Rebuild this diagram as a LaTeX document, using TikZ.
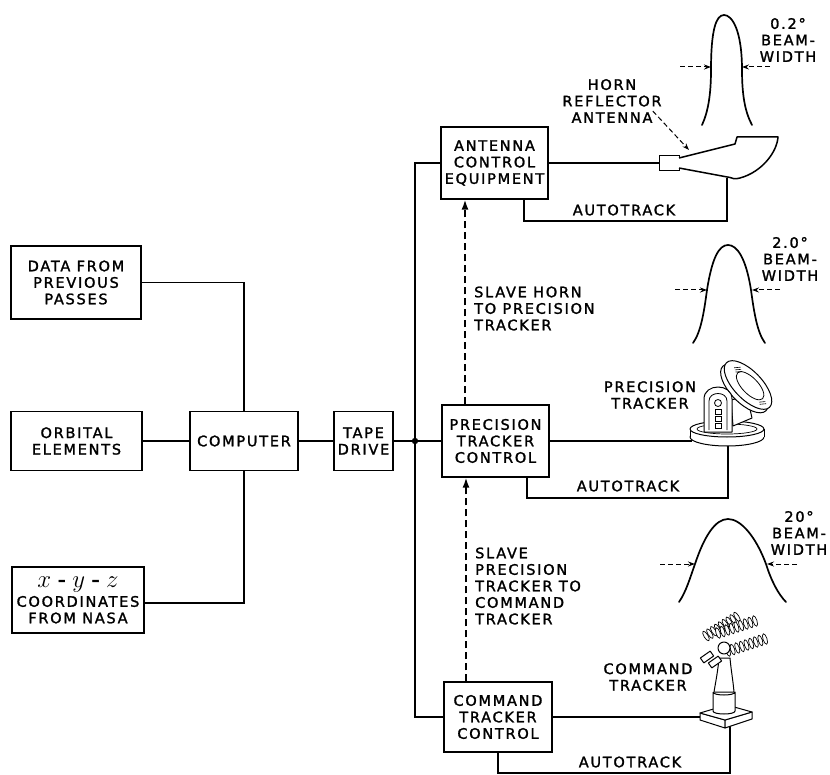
\documentclass[tikz,border=0pt]{standalone}
\usepackage{fontspec}
\setmainfont{DejaVu Sans}[LetterSpace=12, FakeBold=1.6]
\usetikzlibrary{arrows.meta}
\begin{document}
\begin{tikzpicture}[x=1pt,y=-1pt,
  txt/.style={font=\fontsize{14.5}{16.5}\selectfont},
  box/.style={txt, draw, line width=1.3pt, inner sep=0pt, align=center},
  lbl/.style={txt, inner sep=0pt, align=center},
  conn/.style={line width=1.9pt},
  slave/.style={line width=1.6pt, dash pattern=on 7pt off 4pt, -{Latex[length=10pt,width=7pt]}},
  beamarr/.style={line width=1pt, dash pattern=on 5pt off 3pt, -{Stealth[length=7pt,width=5pt]}},
  beam/.style={line width=1.7pt, line cap=round},
  art/.style={line width=1pt, fill=white, line join=round}
]
\useasboundingbox (0,0) rectangle (830,775);

% ---------- blocks ----------
\node[box, minimum width=130pt, minimum height=73pt] (data) at (76,282.5) {DATA FROM\\PREVIOUS\\PASSES};
\node[box, minimum width=131pt, minimum height=59pt] (orb) at (76.5,441) {ORBITAL\\ELEMENTS};
\node[box, minimum width=132pt, minimum height=66pt] (xyz) at (78,600) {{\fontsize{23}{20}\selectfont$x$\;-\;$y$\;-\;$z$}\\[3pt]COORDINATES\\FROM NASA};
\node[box, minimum width=108pt, minimum height=59pt] (comp) at (244,441) {COMPUTER};
\node[box, minimum width=59pt, minimum height=59pt] (tape) at (363.5,441) {TAPE\\DRIVE};
\node[box, minimum width=107pt, minimum height=72pt] (ant) at (494.5,163) {ANTENNA\\CONTROL\\EQUIPMENT};
\node[box, minimum width=107pt, minimum height=72pt] (prec) at (495.5,441) {PRECISION\\TRACKER\\CONTROL};
\node[box, minimum width=108pt, minimum height=70pt] (cmd) at (498,717) {COMMAND\\TRACKER\\CONTROL};

% ---------- named points ----------
\coordinate (j) at (415,441);
\coordinate (sx) at (465,0);
\coordinate (hornb) at (727,178);
\coordinate (ptl) at (692,441);
\coordinate (ptb) at (728,440);
\coordinate (ctl) at (702,717);
\coordinate (ctb) at (730,724);
\coordinate (hornpt) at (689,150);

% ---------- connectors ----------
\draw[conn] (data.east) -| (comp.north);
\draw[conn] (orb.east) -- (comp.west);
\draw[conn] ([yshift=-3pt]xyz.east) -| (comp.south);
\draw[conn] (comp.east) -- (tape.west);
\draw[conn] (tape.east) -- (j) -- (prec.west);
\draw[conn] (ant.west) -- (ant.west -| j) -- (cmd.west -| j) -- (cmd.west);
\fill (j) circle[radius=3.2pt];

\draw[slave] (prec.north -| sx) -- (ant.south -| sx);
\draw[slave] ([xshift=1pt]cmd.north -| sx) -- ([xshift=1pt]prec.south -| sx);

\node[draw, line width=1pt, fill=white, minimum width=20pt, minimum height=15pt, inner sep=0pt] (feed) at (669,163) {};
\draw[conn] (ant.east) -- (feed.west);
\draw[conn] ([xshift=29.5pt]ant.south) -- ++(0,21) -| (hornb);
\draw[conn] (prec.east) -- (ptl);
\draw[conn] ([xshift=31.5pt]prec.south) -- ++(0,20) -| (ptb);
\draw[conn] (cmd.east) -- (ctl);
\draw[conn] (cmd.south) -- ++(0,20) -| (ctb);

% ---------- labels ----------
\node[lbl] at (624,210) {AUTOTRACK};
\node[lbl] at (628,486) {AUTOTRACK};
\node[lbl] at (630,762) {AUTOTRACK};
\node[lbl, anchor=west, align=left] at (474,308.5) {SLAVE HORN\\TO PRECISION\\TRACKER};
\node[lbl, anchor=west, align=left] at (475,586) {SLAVE\\PRECISION\\TRACKER TO\\COMMAND\\TRACKER};
\node[lbl] at (650,395) {PRECISION\\TRACKER};
\node[lbl] at (648,677) {COMMAND\\TRACKER};
\node[lbl] (hornlbl) at (612,101) {HORN\\REFLECTOR\\ANTENNA};
\draw[beamarr] ([xshift=-9pt,yshift=12pt]hornlbl.south east) -- (hornpt);

% ---------- horn reflector ----------
\draw[line width=1.5pt, line join=round, fill=white]
  (679,158) -- (735,144) -- (737,137) -- (778,137)
  .. controls (777,152) and (762,172) .. (740,178)
  .. controls (735,179.5) and (732,178.5) .. (730,177.5) -- (679,168);

% ---------- beam patterns ----------
\draw[beam] (702,125) .. controls (708,112) and (711,95) .. (711,70)
  .. controls (711,30) and (716,15) .. (724,15)
  .. controls (732,15) and (742,30) .. (742,70)
  .. controls (742,95) and (745,112) .. (752,125);
\draw[beamarr] (680,67) -- (711,67);
\draw[beamarr] (770,67) -- (742,67);
\node[lbl] at (788,40) {0.2°\\BEAM-\\WIDTH};

\draw[beam] (693,343) .. controls (701,332) and (704,312) .. (707,290)
  .. controls (712,258) and (719,245) .. (728,245)
  .. controls (737,245) and (746,258) .. (751,290)
  .. controls (754,312) and (757,332) .. (765,343);
\draw[beamarr] (675,290) -- (707,290);
\draw[beamarr] (780,290) -- (752,290);
\node[lbl] at (790,259) {2.0°\\BEAM-\\WIDTH};

\draw[beam] (679,602) .. controls (686,592) and (690,578) .. (695,564)
  .. controls (704,537) and (715,519) .. (728,519)
  .. controls (741,519) and (756,537) .. (766,564)
  .. controls (771,580) and (778,594) .. (786,602);
\draw[beamarr] (660,564) -- (695,564);
\draw[beamarr] (797,564) -- (767,564);
\node[lbl] at (799,533) {20°\\BEAM-\\WIDTH};

% ---------- precision tracker ----------
\filldraw[art] (727,437) ellipse [x radius=37pt, y radius=9pt];
\fill[white] (690,429) rectangle (764,437);
\draw[line width=1pt] (690,429) -- (690,437) (764,429) -- (764,437);
\filldraw[art] (727,429) ellipse [x radius=37pt, y radius=8pt];
\draw[line width=0.7pt] (727,429) ellipse [x radius=30pt, y radius=5pt];
\filldraw[art] (731,400) -- (747,396) -- (752,418) -- (733,426) -- cycle;
\begin{scope}[shift={(748,385)}, rotate=-46]
  \filldraw[art] (0pt,-5pt) ellipse [x radius=31pt, y radius=14pt];
  \filldraw[art] (0pt,0pt) ellipse [x radius=31pt, y radius=14pt];
  \draw[line width=0.8pt] (2pt,1pt) ellipse [x radius=18pt, y radius=8pt];
  \draw[line width=0.6pt] (-22pt,2pt) -- (-18pt,7pt) (-20pt,1pt) -- (-16pt,6pt) (-18pt,0pt) -- (-14pt,5pt);
  \draw[line width=0.6pt] (20pt,-4pt) -- (24pt,1pt) (22pt,-5pt) -- (26pt,0pt);
\end{scope}
\filldraw[art] (704,432) -- (704,399) .. controls (704,383) and (732,383) .. (732,399) -- (732,432) -- cycle;
\draw[line width=0.8pt] (709,430) -- (709,401) .. controls (709,391) and (727,391) .. (727,401) -- (727,430);
\draw[line width=0.8pt] (718,403) circle[radius=3.5pt];
\draw[line width=0.8pt] (715,409) rectangle (721,414) (715,416) rectangle (721,421) (715,423) rectangle (721,428);

% ---------- command tracker ----------
\filldraw[art] (700,713) -- (725,720) -- (725,728) -- (700,720) -- cycle;
\filldraw[art] (725,720) -- (752,712) -- (752,719) -- (725,728) -- cycle;
\filldraw[art] (700,713) -- (727,705) -- (752,712) -- (725,720) -- cycle;
\filldraw[art] (714,692) .. controls (716,680) and (718,670) .. (719,658) -- (730,658)
  .. controls (731,670) and (733,680) .. (734,692) -- cycle;
\filldraw[art] (713,692) -- (713,711) .. controls (713,715) and (735,715) .. (735,711) -- (735,692)
  .. controls (735,696) and (713,696) .. (713,692);
\draw[line width=0.8pt] (706,636) -- (737,617) (718,633) -- (755,621) (728,651) -- (765,639);
\foreach \t in {0,...,8} {
  \filldraw[art, line width=0.7pt] ({706+31*\t/8},{636-19*\t/8}) ellipse [x radius=2pt, y radius=5.5pt, rotate=31.5];
}
\foreach \t in {0,...,8} {
  \filldraw[art, line width=0.7pt] ({718+37*\t/8},{633-12*\t/8}) ellipse [x radius=2pt, y radius=5.5pt, rotate=18];
}
\foreach \t in {0,...,8} {
  \filldraw[art, line width=0.7pt] ({728+37*\t/8},{651-12*\t/8}) ellipse [x radius=2pt, y radius=5.5pt, rotate=18];
}
\filldraw[art] (724,648) circle[radius=6pt];
\filldraw[art, rotate around={35:(707,657)}] (701,654) rectangle (713,660);
\filldraw[art, rotate around={35:(715,662)}] (709,659) rectangle (721,665);
\end{tikzpicture}
\end{document}
